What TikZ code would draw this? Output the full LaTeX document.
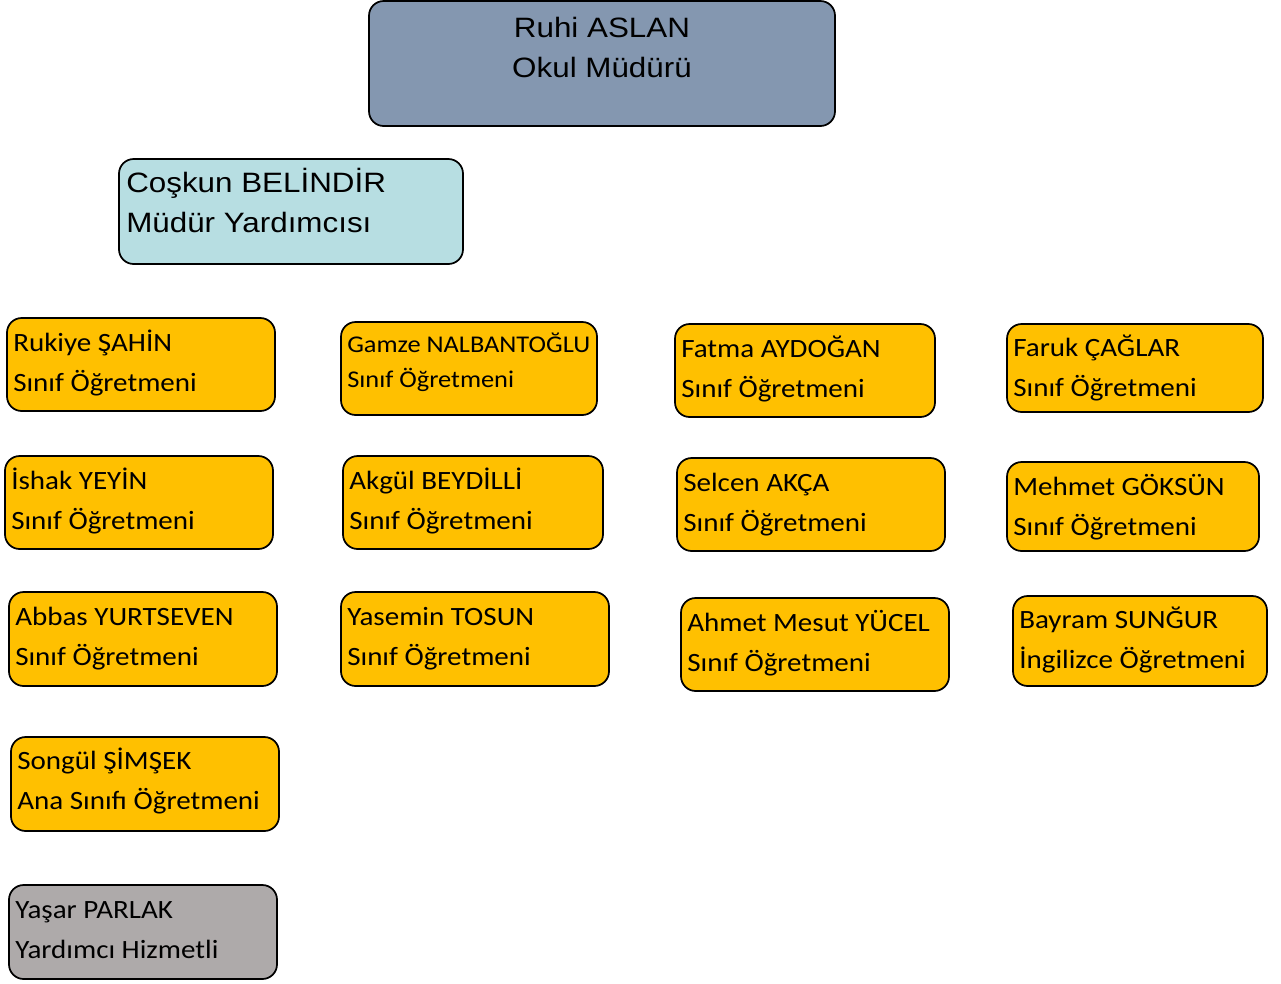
\documentclass[tikz,border=0pt]{standalone}
\usepackage{fontspec}
\setmainfont[FakeStretch=1.1]{Carlito}
\newfontfamily\arialfont[FakeStretch=1.12]{Liberation Sans}
\usetikzlibrary{positioning}

\definecolor{mudur}{HTML}{8497B0}
\definecolor{yardimci}{HTML}{B7DEE2}
\definecolor{ogretmen}{HTML}{FFC000}
\definecolor{hizmetli}{HTML}{AEAAAA}

\begin{document}
\begin{tikzpicture}[x=0.75pt,y=-0.75pt,
  box/.style={draw,line width=1.3pt,rounded corners=11pt,inner sep=0pt},
  head box/.style={box,fill=mudur},
  vice box/.style={box,fill=yardimci},
  teacher box/.style={box,fill=ogretmen},
  staff box/.style={box,fill=hizmetli},
  % base = baseline of the second line
  label text/.style={inner sep=0pt,anchor=base west,align=left,
    font=\fontsize{19.8}{30}\selectfont},
  head text/.style={label text,font=\arialfont\fontsize{21}{30}\selectfont}]
  \useasboundingbox (0,0) rectangle (1281,983);

  % yonetim
  \node[head box, minimum width=349.5pt, minimum height=93.75pt] (ruhi) at (602,63.5) {};
  \node[head text, anchor=base, align=center] (ruhi-t) at (602,77) {Ruhi ASLAN\\Okul Müdürü};
  \node[vice box, minimum width=258pt, minimum height=78.75pt] (coskun) at (291,211.5) {};
  \node[head text] (coskun-t) at (126,232) {Coşkun BELİNDİR\\Müdür Yardımcısı};

  % ogretmenler, 1. sira
  \node[teacher box, minimum width=201pt, minimum height=69.75pt] (rukiye) at (141,364.5) {};
  \node[label text] (rukiye-t) at (13,391) {Rukiye ŞAHİN\\Sınıf Öğretmeni};
  \node[teacher box, minimum width=192pt, minimum height=69.75pt] (gamze) at (469,368.5) {};
  \node[label text, font=\fontsize{18}{26.25}\selectfont] (gamze-t) at (347,387) {Gamze NALBANTOĞLU\\Sınıf Öğretmeni};
  \node[teacher box, minimum width=195pt, minimum height=69.75pt] (fatma) at (805,370.5) {};
  \node[label text] (fatma-t) at (681,397) {Fatma AYDOĞAN\\Sınıf Öğretmeni};
  \node[teacher box, minimum width=192pt, minimum height=66pt] (faruk) at (1135,368) {};
  \node[label text] (faruk-t) at (1013,396) {Faruk ÇAĞLAR\\Sınıf Öğretmeni};

  % 2. sira
  \node[teacher box, minimum width=201pt, minimum height=69.75pt] (ishak) at (139,502.5) {};
  \node[label text] (ishak-t) at (11,529) {İshak YEYİN\\Sınıf Öğretmeni};
  \node[teacher box, minimum width=195pt, minimum height=69.75pt] (akgul) at (473,502.5) {};
  \node[label text] (akgul-t) at (349,529) {Akgül BEYDİLLİ\\Sınıf Öğretmeni};
  \node[teacher box, minimum width=201pt, minimum height=69.75pt] (selcen) at (811,504.5) {};
  \node[label text] (selcen-t) at (683,531) {Selcen AKÇA\\Sınıf Öğretmeni};
  \node[teacher box, minimum width=189pt, minimum height=66.75pt] (mehmet) at (1133,506.5) {};
  \node[label text] (mehmet-t) at (1013,535) {Mehmet GÖKSÜN\\Sınıf Öğretmeni};

  % 3. sira
  \node[teacher box, minimum width=201pt, minimum height=70.5pt] (abbas) at (143,639) {};
  \node[label text] (abbas-t) at (15,665) {Abbas YURTSEVEN\\Sınıf Öğretmeni};
  \node[teacher box, minimum width=201pt, minimum height=70.5pt] (yasemin) at (475,639) {};
  \node[label text] (yasemin-t) at (347,665) {Yasemin TOSUN\\Sınıf Öğretmeni};
  \node[teacher box, minimum width=201pt, minimum height=69.75pt] (ahmet) at (815,644.5) {};
  \node[label text] (ahmet-t) at (687,671) {Ahmet Mesut YÜCEL\\Sınıf Öğretmeni};
  \node[teacher box, minimum width=190.5pt, minimum height=67.5pt] (bayram) at (1140,641) {};
  \node[label text] (bayram-t) at (1019,668) {Bayram SUNĞUR\\İngilizce Öğretmeni};

  % ana sinifi ve hizmetli
  \node[teacher box, minimum width=201pt, minimum height=70.5pt] (songul) at (145,784) {};
  \node[label text] (songul-t) at (17,809) {Songül ŞİMŞEK\\Ana Sınıfı Öğretmeni};
  \node[staff box, minimum width=201pt, minimum height=70.5pt] (yasar) at (143,932) {};
  \node[label text] (yasar-t) at (15,958) {Yaşar PARLAK\\Yardımcı Hizmetli};
\end{tikzpicture}
\end{document}
